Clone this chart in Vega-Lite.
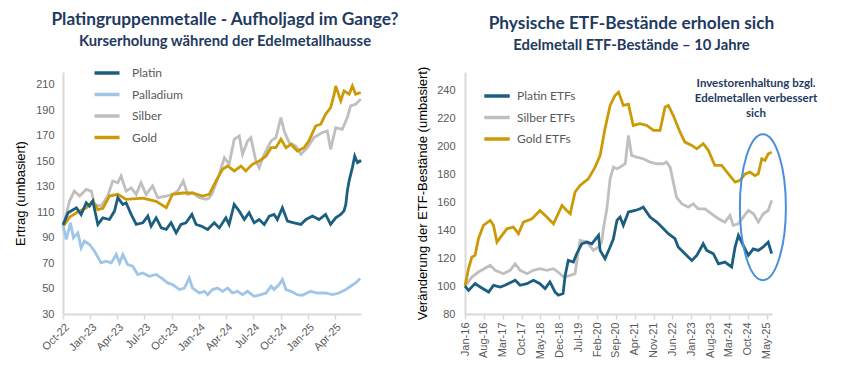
{
  "$schema": "https://vega.github.io/schema/vega-lite/v6.json",
  "background": "white",
  "padding": {"left": 14, "top": 10, "right": 5, "bottom": 5},
  "config": {
    "view": {"stroke": null},
    "axis": {"labelFont": "Liberation Sans", "titleFont": "Liberation Sans", "grid": false}
  },
  "datasets": {
    "left": [
      {"d": "2022-10-01", "s": "Palladium", "v": 100},
      {"d": "2022-10-12", "s": "Palladium", "v": 88.5},
      {"d": "2022-10-26", "s": "Palladium", "v": 101.6},
      {"d": "2022-11-05", "s": "Palladium", "v": 89.8},
      {"d": "2022-11-20", "s": "Palladium", "v": 93.7},
      {"d": "2022-12-01", "s": "Palladium", "v": 81.9},
      {"d": "2022-12-12", "s": "Palladium", "v": 87.2},
      {"d": "2022-12-29", "s": "Palladium", "v": 84.6},
      {"d": "2023-01-15", "s": "Palladium", "v": 79.3},
      {"d": "2023-02-06", "s": "Palladium", "v": 70.1},
      {"d": "2023-02-23", "s": "Palladium", "v": 71.4},
      {"d": "2023-03-12", "s": "Palladium", "v": 70.1},
      {"d": "2023-03-29", "s": "Palladium", "v": 76.7},
      {"d": "2023-04-09", "s": "Palladium", "v": 70.1},
      {"d": "2023-04-20", "s": "Palladium", "v": 76.7},
      {"d": "2023-05-06", "s": "Palladium", "v": 68.8},
      {"d": "2023-05-23", "s": "Palladium", "v": 67.5},
      {"d": "2023-06-09", "s": "Palladium", "v": 61},
      {"d": "2023-06-26", "s": "Palladium", "v": 62.2},
      {"d": "2023-07-18", "s": "Palladium", "v": 59.6},
      {"d": "2023-08-10", "s": "Palladium", "v": 61},
      {"d": "2023-08-27", "s": "Palladium", "v": 58.3},
      {"d": "2023-09-18", "s": "Palladium", "v": 54.4},
      {"d": "2023-10-04", "s": "Palladium", "v": 53.1},
      {"d": "2023-10-27", "s": "Palladium", "v": 49.2},
      {"d": "2023-11-13", "s": "Palladium", "v": 50.4},
      {"d": "2023-11-29", "s": "Palladium", "v": 58.3},
      {"d": "2023-12-10", "s": "Palladium", "v": 50.4},
      {"d": "2024-01-02", "s": "Palladium", "v": 46.5},
      {"d": "2024-01-19", "s": "Palladium", "v": 47.8},
      {"d": "2024-01-30", "s": "Palladium", "v": 45.2},
      {"d": "2024-02-15", "s": "Palladium", "v": 49.2},
      {"d": "2024-03-03", "s": "Palladium", "v": 50.4},
      {"d": "2024-03-20", "s": "Palladium", "v": 47.8},
      {"d": "2024-04-06", "s": "Palladium", "v": 50.4},
      {"d": "2024-04-22", "s": "Palladium", "v": 46.5},
      {"d": "2024-05-09", "s": "Palladium", "v": 47.8},
      {"d": "2024-05-26", "s": "Palladium", "v": 45.2},
      {"d": "2024-06-12", "s": "Palladium", "v": 47.8},
      {"d": "2024-07-04", "s": "Palladium", "v": 43.9},
      {"d": "2024-07-27", "s": "Palladium", "v": 45.2},
      {"d": "2024-08-13", "s": "Palladium", "v": 46.5},
      {"d": "2024-08-30", "s": "Palladium", "v": 51.8},
      {"d": "2024-09-09", "s": "Palladium", "v": 49.2},
      {"d": "2024-09-26", "s": "Palladium", "v": 53.1},
      {"d": "2024-10-07", "s": "Palladium", "v": 57.1},
      {"d": "2024-10-19", "s": "Palladium", "v": 49.2},
      {"d": "2024-11-05", "s": "Palladium", "v": 47.8},
      {"d": "2024-11-26", "s": "Palladium", "v": 45.2},
      {"d": "2024-12-13", "s": "Palladium", "v": 44.7},
      {"d": "2025-01-10", "s": "Palladium", "v": 47.8},
      {"d": "2025-02-01", "s": "Palladium", "v": 46.5},
      {"d": "2025-03-01", "s": "Palladium", "v": 46.5},
      {"d": "2025-03-24", "s": "Palladium", "v": 45.2},
      {"d": "2025-04-15", "s": "Palladium", "v": 46.5},
      {"d": "2025-05-08", "s": "Palladium", "v": 49.2},
      {"d": "2025-05-24", "s": "Palladium", "v": 51.8},
      {"d": "2025-06-10", "s": "Palladium", "v": 54.4},
      {"d": "2025-06-25", "s": "Palladium", "v": 57.8},
      {"d": "2022-10-01", "s": "Silber", "v": 100},
      {"d": "2022-10-06", "s": "Silber", "v": 102.9},
      {"d": "2022-10-23", "s": "Silber", "v": 118.7},
      {"d": "2022-11-08", "s": "Silber", "v": 126.5},
      {"d": "2022-11-26", "s": "Silber", "v": 122.6},
      {"d": "2022-12-18", "s": "Silber", "v": 127.9},
      {"d": "2023-01-04", "s": "Silber", "v": 126.5},
      {"d": "2023-01-15", "s": "Silber", "v": 116},
      {"d": "2023-02-06", "s": "Silber", "v": 114.7},
      {"d": "2023-02-28", "s": "Silber", "v": 122.6},
      {"d": "2023-03-17", "s": "Silber", "v": 134.4},
      {"d": "2023-04-03", "s": "Silber", "v": 133},
      {"d": "2023-04-14", "s": "Silber", "v": 138.3},
      {"d": "2023-05-01", "s": "Silber", "v": 126.5},
      {"d": "2023-05-18", "s": "Silber", "v": 129.1},
      {"d": "2023-06-04", "s": "Silber", "v": 123.9},
      {"d": "2023-06-20", "s": "Silber", "v": 133.1},
      {"d": "2023-07-07", "s": "Silber", "v": 123.9},
      {"d": "2023-07-29", "s": "Silber", "v": 130.5},
      {"d": "2023-08-15", "s": "Silber", "v": 121.3},
      {"d": "2023-09-13", "s": "Silber", "v": 122.6},
      {"d": "2023-10-04", "s": "Silber", "v": 123.9},
      {"d": "2023-10-21", "s": "Silber", "v": 126.5},
      {"d": "2023-11-09", "s": "Silber", "v": 134.4},
      {"d": "2023-11-24", "s": "Silber", "v": 123.9},
      {"d": "2023-12-10", "s": "Silber", "v": 125.2},
      {"d": "2024-01-02", "s": "Silber", "v": 121.3},
      {"d": "2024-01-24", "s": "Silber", "v": 120},
      {"d": "2024-02-04", "s": "Silber", "v": 121},
      {"d": "2024-02-15", "s": "Silber", "v": 125},
      {"d": "2024-03-09", "s": "Silber", "v": 139.7},
      {"d": "2024-03-26", "s": "Silber", "v": 152.7},
      {"d": "2024-04-11", "s": "Silber", "v": 147.5},
      {"d": "2024-04-28", "s": "Silber", "v": 167.2},
      {"d": "2024-05-15", "s": "Silber", "v": 169.8},
      {"d": "2024-05-26", "s": "Silber", "v": 155.4},
      {"d": "2024-06-12", "s": "Silber", "v": 165.9},
      {"d": "2024-06-23", "s": "Silber", "v": 168.5},
      {"d": "2024-07-10", "s": "Silber", "v": 150.1},
      {"d": "2024-07-21", "s": "Silber", "v": 144.9},
      {"d": "2024-08-07", "s": "Silber", "v": 155.4},
      {"d": "2024-08-30", "s": "Silber", "v": 165.9},
      {"d": "2024-09-15", "s": "Silber", "v": 168.5},
      {"d": "2024-10-02", "s": "Silber", "v": 184.2},
      {"d": "2024-10-13", "s": "Silber", "v": 173.7},
      {"d": "2024-10-30", "s": "Silber", "v": 164.5},
      {"d": "2024-11-21", "s": "Silber", "v": 161.9},
      {"d": "2024-12-08", "s": "Silber", "v": 155.4},
      {"d": "2024-12-30", "s": "Silber", "v": 160.6},
      {"d": "2025-01-21", "s": "Silber", "v": 168.5},
      {"d": "2025-02-18", "s": "Silber", "v": 172.4},
      {"d": "2025-03-07", "s": "Silber", "v": 173.7},
      {"d": "2025-03-18", "s": "Silber", "v": 159.3},
      {"d": "2025-04-04", "s": "Silber", "v": 176.3},
      {"d": "2025-04-26", "s": "Silber", "v": 175},
      {"d": "2025-05-13", "s": "Silber", "v": 184.2},
      {"d": "2025-05-24", "s": "Silber", "v": 193.4},
      {"d": "2025-06-10", "s": "Silber", "v": 194.7},
      {"d": "2025-06-27", "s": "Silber", "v": 198.7},
      {"d": "2022-10-01", "s": "Gold", "v": 100},
      {"d": "2022-10-06", "s": "Gold", "v": 100.3},
      {"d": "2022-10-23", "s": "Gold", "v": 106},
      {"d": "2022-11-15", "s": "Gold", "v": 109.5},
      {"d": "2022-12-18", "s": "Gold", "v": 113.4},
      {"d": "2023-01-09", "s": "Gold", "v": 118.7},
      {"d": "2023-01-26", "s": "Gold", "v": 112},
      {"d": "2023-02-12", "s": "Gold", "v": 113},
      {"d": "2023-03-06", "s": "Gold", "v": 122.6},
      {"d": "2023-04-03", "s": "Gold", "v": 124},
      {"d": "2023-05-01", "s": "Gold", "v": 120},
      {"d": "2023-06-26", "s": "Gold", "v": 121},
      {"d": "2023-08-10", "s": "Gold", "v": 118.5},
      {"d": "2023-09-13", "s": "Gold", "v": 113.5},
      {"d": "2023-10-04", "s": "Gold", "v": 124},
      {"d": "2023-11-07", "s": "Gold", "v": 125},
      {"d": "2023-12-10", "s": "Gold", "v": 125},
      {"d": "2024-01-13", "s": "Gold", "v": 122.6},
      {"d": "2024-02-04", "s": "Gold", "v": 123.9},
      {"d": "2024-02-27", "s": "Gold", "v": 134.4},
      {"d": "2024-03-20", "s": "Gold", "v": 143.6},
      {"d": "2024-04-06", "s": "Gold", "v": 146.2},
      {"d": "2024-04-28", "s": "Gold", "v": 142.3},
      {"d": "2024-05-21", "s": "Gold", "v": 146.2},
      {"d": "2024-06-06", "s": "Gold", "v": 142.3},
      {"d": "2024-06-28", "s": "Gold", "v": 147.5},
      {"d": "2024-07-21", "s": "Gold", "v": 150.1},
      {"d": "2024-08-13", "s": "Gold", "v": 154.1},
      {"d": "2024-08-30", "s": "Gold", "v": 160.6},
      {"d": "2024-09-15", "s": "Gold", "v": 160.6},
      {"d": "2024-10-02", "s": "Gold", "v": 167.2},
      {"d": "2024-10-19", "s": "Gold", "v": 160.6},
      {"d": "2024-11-05", "s": "Gold", "v": 163.3},
      {"d": "2024-11-26", "s": "Gold", "v": 158},
      {"d": "2024-12-19", "s": "Gold", "v": 160.6},
      {"d": "2025-01-04", "s": "Gold", "v": 165.9},
      {"d": "2025-01-27", "s": "Gold", "v": 177.7},
      {"d": "2025-02-13", "s": "Gold", "v": 179},
      {"d": "2025-03-01", "s": "Gold", "v": 186.9},
      {"d": "2025-03-18", "s": "Gold", "v": 192.1},
      {"d": "2025-03-30", "s": "Gold", "v": 202.6},
      {"d": "2025-04-04", "s": "Gold", "v": 209.1},
      {"d": "2025-04-21", "s": "Gold", "v": 197.3},
      {"d": "2025-05-02", "s": "Gold", "v": 205.2},
      {"d": "2025-05-19", "s": "Gold", "v": 202.6},
      {"d": "2025-05-30", "s": "Gold", "v": 209.1},
      {"d": "2025-06-10", "s": "Gold", "v": 202.6},
      {"d": "2025-06-27", "s": "Gold", "v": 203.9},
      {"d": "2022-10-01", "s": "Platin", "v": 100},
      {"d": "2022-10-18", "s": "Platin", "v": 109.5},
      {"d": "2022-11-15", "s": "Platin", "v": 113.4},
      {"d": "2022-12-01", "s": "Platin", "v": 108},
      {"d": "2022-12-18", "s": "Platin", "v": 117.3},
      {"d": "2022-12-29", "s": "Platin", "v": 114.7},
      {"d": "2023-01-09", "s": "Platin", "v": 118.7},
      {"d": "2023-01-26", "s": "Platin", "v": 100.3},
      {"d": "2023-02-12", "s": "Platin", "v": 105.5},
      {"d": "2023-03-06", "s": "Platin", "v": 104.2},
      {"d": "2023-03-23", "s": "Platin", "v": 110.8},
      {"d": "2023-04-03", "s": "Platin", "v": 121.3},
      {"d": "2023-04-20", "s": "Platin", "v": 116},
      {"d": "2023-05-01", "s": "Platin", "v": 117.3},
      {"d": "2023-05-18", "s": "Platin", "v": 108.2},
      {"d": "2023-06-04", "s": "Platin", "v": 100.3},
      {"d": "2023-06-26", "s": "Platin", "v": 101.6},
      {"d": "2023-07-13", "s": "Platin", "v": 106.9},
      {"d": "2023-07-24", "s": "Platin", "v": 99},
      {"d": "2023-08-10", "s": "Platin", "v": 105.5},
      {"d": "2023-08-27", "s": "Platin", "v": 97.6},
      {"d": "2023-09-13", "s": "Platin", "v": 96.4},
      {"d": "2023-09-29", "s": "Platin", "v": 101.6},
      {"d": "2023-10-16", "s": "Platin", "v": 93.7},
      {"d": "2023-11-01", "s": "Platin", "v": 100.3},
      {"d": "2023-11-18", "s": "Platin", "v": 101.6},
      {"d": "2023-12-08", "s": "Platin", "v": 108.2},
      {"d": "2023-12-22", "s": "Platin", "v": 100.3},
      {"d": "2024-01-08", "s": "Platin", "v": 99},
      {"d": "2024-01-30", "s": "Platin", "v": 96.4},
      {"d": "2024-02-21", "s": "Platin", "v": 101.6},
      {"d": "2024-03-09", "s": "Platin", "v": 97.6},
      {"d": "2024-03-31", "s": "Platin", "v": 105.5},
      {"d": "2024-04-11", "s": "Platin", "v": 100.3},
      {"d": "2024-04-28", "s": "Platin", "v": 116},
      {"d": "2024-05-15", "s": "Platin", "v": 110.8},
      {"d": "2024-06-01", "s": "Platin", "v": 104.2},
      {"d": "2024-06-17", "s": "Platin", "v": 109.5},
      {"d": "2024-07-04", "s": "Platin", "v": 101.6},
      {"d": "2024-07-21", "s": "Platin", "v": 104.2},
      {"d": "2024-08-07", "s": "Platin", "v": 100.3},
      {"d": "2024-08-24", "s": "Platin", "v": 106.9},
      {"d": "2024-09-09", "s": "Platin", "v": 108.2},
      {"d": "2024-09-20", "s": "Platin", "v": 104.2},
      {"d": "2024-10-07", "s": "Platin", "v": 113.4},
      {"d": "2024-10-24", "s": "Platin", "v": 102.9},
      {"d": "2024-11-15", "s": "Platin", "v": 101.6},
      {"d": "2024-12-08", "s": "Platin", "v": 100.3},
      {"d": "2024-12-25", "s": "Platin", "v": 104.2},
      {"d": "2025-01-16", "s": "Platin", "v": 106.9},
      {"d": "2025-02-07", "s": "Platin", "v": 104.2},
      {"d": "2025-03-01", "s": "Platin", "v": 108.2},
      {"d": "2025-03-18", "s": "Platin", "v": 100.3},
      {"d": "2025-04-04", "s": "Platin", "v": 105.5},
      {"d": "2025-04-21", "s": "Platin", "v": 108.2},
      {"d": "2025-05-02", "s": "Platin", "v": 111},
      {"d": "2025-05-08", "s": "Platin", "v": 116},
      {"d": "2025-05-13", "s": "Platin", "v": 126.5},
      {"d": "2025-05-19", "s": "Platin", "v": 134.4},
      {"d": "2025-05-30", "s": "Platin", "v": 144.9},
      {"d": "2025-06-07", "s": "Platin", "v": 154},
      {"d": "2025-06-16", "s": "Platin", "v": 148.8},
      {"d": "2025-06-24", "s": "Platin", "v": 150.1},
      {"d": "2025-06-27", "s": "Platin", "v": 149}
    ],
    "right": [
      {"d": "2016-01-01", "s": "Silber ETFs", "v": 100},
      {"d": "2016-03-19", "s": "Silber ETFs", "v": 106.4},
      {"d": "2016-06-01", "s": "Silber ETFs", "v": 110},
      {"d": "2016-09-07", "s": "Silber ETFs", "v": 113.6},
      {"d": "2016-10-12", "s": "Silber ETFs", "v": 114.8},
      {"d": "2016-12-07", "s": "Silber ETFs", "v": 111.2},
      {"d": "2017-03-10", "s": "Silber ETFs", "v": 108.8},
      {"d": "2017-05-24", "s": "Silber ETFs", "v": 111.2},
      {"d": "2017-07-21", "s": "Silber ETFs", "v": 115.9},
      {"d": "2017-09-15", "s": "Silber ETFs", "v": 111.2},
      {"d": "2017-12-01", "s": "Silber ETFs", "v": 108.8},
      {"d": "2018-02-12", "s": "Silber ETFs", "v": 111.2},
      {"d": "2018-04-27", "s": "Silber ETFs", "v": 112.4},
      {"d": "2018-07-13", "s": "Silber ETFs", "v": 111.2},
      {"d": "2018-09-27", "s": "Silber ETFs", "v": 112.4},
      {"d": "2018-12-10", "s": "Silber ETFs", "v": 108.8},
      {"d": "2019-01-18", "s": "Silber ETFs", "v": 106.4},
      {"d": "2019-04-04", "s": "Silber ETFs", "v": 107.6},
      {"d": "2019-05-28", "s": "Silber ETFs", "v": 108.8},
      {"d": "2019-07-24", "s": "Silber ETFs", "v": 132.6},
      {"d": "2019-10-10", "s": "Silber ETFs", "v": 131.4},
      {"d": "2019-12-22", "s": "Silber ETFs", "v": 125.5},
      {"d": "2020-02-18", "s": "Silber ETFs", "v": 127.9},
      {"d": "2020-03-24", "s": "Silber ETFs", "v": 131.4},
      {"d": "2020-04-13", "s": "Silber ETFs", "v": 140.9},
      {"d": "2020-05-22", "s": "Silber ETFs", "v": 155.2},
      {"d": "2020-06-28", "s": "Silber ETFs", "v": 176.6},
      {"d": "2020-08-04", "s": "Silber ETFs", "v": 185},
      {"d": "2020-09-13", "s": "Silber ETFs", "v": 183.8},
      {"d": "2020-10-19", "s": "Silber ETFs", "v": 185},
      {"d": "2020-12-16", "s": "Silber ETFs", "v": 187.4},
      {"d": "2021-01-21", "s": "Silber ETFs", "v": 207.6},
      {"d": "2021-02-26", "s": "Silber ETFs", "v": 193.4},
      {"d": "2021-04-24", "s": "Silber ETFs", "v": 192.2},
      {"d": "2021-07-07", "s": "Silber ETFs", "v": 191},
      {"d": "2021-09-22", "s": "Silber ETFs", "v": 188.6},
      {"d": "2021-12-07", "s": "Silber ETFs", "v": 187.4},
      {"d": "2022-02-21", "s": "Silber ETFs", "v": 187.4},
      {"d": "2022-03-27", "s": "Silber ETFs", "v": 188.6},
      {"d": "2022-05-07", "s": "Silber ETFs", "v": 185},
      {"d": "2022-06-12", "s": "Silber ETFs", "v": 174.3},
      {"d": "2022-07-18", "s": "Silber ETFs", "v": 163.6},
      {"d": "2022-09-15", "s": "Silber ETFs", "v": 158.8},
      {"d": "2022-11-27", "s": "Silber ETFs", "v": 156.4},
      {"d": "2023-01-24", "s": "Silber ETFs", "v": 158.8},
      {"d": "2023-03-19", "s": "Silber ETFs", "v": 155.2},
      {"d": "2023-06-04", "s": "Silber ETFs", "v": 155.2},
      {"d": "2023-08-18", "s": "Silber ETFs", "v": 151.6},
      {"d": "2023-11-04", "s": "Silber ETFs", "v": 148.1},
      {"d": "2024-01-16", "s": "Silber ETFs", "v": 145.7},
      {"d": "2024-03-13", "s": "Silber ETFs", "v": 150.5},
      {"d": "2024-04-18", "s": "Silber ETFs", "v": 143.4},
      {"d": "2024-06-16", "s": "Silber ETFs", "v": 144.5},
      {"d": "2024-08-10", "s": "Silber ETFs", "v": 149.3},
      {"d": "2024-10-07", "s": "Silber ETFs", "v": 154},
      {"d": "2024-12-04", "s": "Silber ETFs", "v": 151.6},
      {"d": "2025-01-27", "s": "Silber ETFs", "v": 145.7},
      {"d": "2025-03-24", "s": "Silber ETFs", "v": 151.6},
      {"d": "2025-05-19", "s": "Silber ETFs", "v": 154},
      {"d": "2025-06-27", "s": "Silber ETFs", "v": 161.2},
      {"d": "2016-01-01", "s": "Gold ETFs", "v": 100},
      {"d": "2016-02-10", "s": "Gold ETFs", "v": 112.4},
      {"d": "2016-03-19", "s": "Gold ETFs", "v": 120.7},
      {"d": "2016-04-24", "s": "Gold ETFs", "v": 121.9},
      {"d": "2016-06-01", "s": "Gold ETFs", "v": 133.8},
      {"d": "2016-07-27", "s": "Gold ETFs", "v": 143.4},
      {"d": "2016-10-12", "s": "Gold ETFs", "v": 146.9},
      {"d": "2016-11-18", "s": "Gold ETFs", "v": 143.4},
      {"d": "2016-12-27", "s": "Gold ETFs", "v": 131.4},
      {"d": "2017-02-21", "s": "Gold ETFs", "v": 136.2},
      {"d": "2017-04-18", "s": "Gold ETFs", "v": 140.9},
      {"d": "2017-07-01", "s": "Gold ETFs", "v": 142.1},
      {"d": "2017-08-27", "s": "Gold ETFs", "v": 137.4},
      {"d": "2017-10-21", "s": "Gold ETFs", "v": 145.7},
      {"d": "2018-01-27", "s": "Gold ETFs", "v": 148.1},
      {"d": "2018-04-27", "s": "Gold ETFs", "v": 154},
      {"d": "2018-07-13", "s": "Gold ETFs", "v": 149.3},
      {"d": "2018-09-27", "s": "Gold ETFs", "v": 144.5},
      {"d": "2019-01-01", "s": "Gold ETFs", "v": 157.6},
      {"d": "2019-02-23", "s": "Gold ETFs", "v": 154},
      {"d": "2019-04-04", "s": "Gold ETFs", "v": 151.6},
      {"d": "2019-05-28", "s": "Gold ETFs", "v": 167.1},
      {"d": "2019-07-24", "s": "Gold ETFs", "v": 171.9},
      {"d": "2019-10-25", "s": "Gold ETFs", "v": 176.6},
      {"d": "2020-01-10", "s": "Gold ETFs", "v": 185},
      {"d": "2020-03-07", "s": "Gold ETFs", "v": 193.4},
      {"d": "2020-05-01", "s": "Gold ETFs", "v": 212.4},
      {"d": "2020-06-28", "s": "Gold ETFs", "v": 229.1},
      {"d": "2020-08-22", "s": "Gold ETFs", "v": 236.2},
      {"d": "2020-10-01", "s": "Gold ETFs", "v": 238.6},
      {"d": "2020-11-24", "s": "Gold ETFs", "v": 229.1},
      {"d": "2021-01-21", "s": "Gold ETFs", "v": 230},
      {"d": "2021-03-16", "s": "Gold ETFs", "v": 214.8},
      {"d": "2021-06-01", "s": "Gold ETFs", "v": 216},
      {"d": "2021-08-16", "s": "Gold ETFs", "v": 214.8},
      {"d": "2021-11-01", "s": "Gold ETFs", "v": 211.2},
      {"d": "2022-01-13", "s": "Gold ETFs", "v": 211.2},
      {"d": "2022-03-10", "s": "Gold ETFs", "v": 227.9},
      {"d": "2022-04-16", "s": "Gold ETFs", "v": 229.1},
      {"d": "2022-06-12", "s": "Gold ETFs", "v": 221.9},
      {"d": "2022-08-27", "s": "Gold ETFs", "v": 210},
      {"d": "2022-10-21", "s": "Gold ETFs", "v": 202.9},
      {"d": "2023-01-07", "s": "Gold ETFs", "v": 200.5},
      {"d": "2023-03-04", "s": "Gold ETFs", "v": 198.1},
      {"d": "2023-05-16", "s": "Gold ETFs", "v": 201.7},
      {"d": "2023-07-13", "s": "Gold ETFs", "v": 197},
      {"d": "2023-09-24", "s": "Gold ETFs", "v": 186.2},
      {"d": "2023-12-10", "s": "Gold ETFs", "v": 186.2},
      {"d": "2024-02-24", "s": "Gold ETFs", "v": 180.2},
      {"d": "2024-05-10", "s": "Gold ETFs", "v": 174.3},
      {"d": "2024-07-04", "s": "Gold ETFs", "v": 175.5},
      {"d": "2024-09-01", "s": "Gold ETFs", "v": 180.2},
      {"d": "2024-10-25", "s": "Gold ETFs", "v": 181.4},
      {"d": "2024-12-21", "s": "Gold ETFs", "v": 178.9},
      {"d": "2025-01-27", "s": "Gold ETFs", "v": 180.2},
      {"d": "2025-03-07", "s": "Gold ETFs", "v": 191},
      {"d": "2025-04-13", "s": "Gold ETFs", "v": 189.8},
      {"d": "2025-05-19", "s": "Gold ETFs", "v": 194.5},
      {"d": "2025-06-27", "s": "Gold ETFs", "v": 195.7},
      {"d": "2016-01-01", "s": "Platin ETFs", "v": 100},
      {"d": "2016-02-10", "s": "Platin ETFs", "v": 96.9},
      {"d": "2016-04-24", "s": "Platin ETFs", "v": 101.7},
      {"d": "2016-06-21", "s": "Platin ETFs", "v": 99.3},
      {"d": "2016-09-24", "s": "Platin ETFs", "v": 95.7},
      {"d": "2016-11-18", "s": "Platin ETFs", "v": 100.5},
      {"d": "2017-02-04", "s": "Platin ETFs", "v": 99.3},
      {"d": "2017-03-27", "s": "Platin ETFs", "v": 100.5},
      {"d": "2017-06-12", "s": "Platin ETFs", "v": 102.9},
      {"d": "2017-07-21", "s": "Platin ETFs", "v": 104.1},
      {"d": "2017-09-15", "s": "Platin ETFs", "v": 100.5},
      {"d": "2017-12-01", "s": "Platin ETFs", "v": 101.7},
      {"d": "2018-02-12", "s": "Platin ETFs", "v": 104.1},
      {"d": "2018-04-27", "s": "Platin ETFs", "v": 101.7},
      {"d": "2018-06-24", "s": "Platin ETFs", "v": 98.1},
      {"d": "2018-08-18", "s": "Platin ETFs", "v": 102.9},
      {"d": "2018-10-15", "s": "Platin ETFs", "v": 95.7},
      {"d": "2018-11-21", "s": "Platin ETFs", "v": 93.4},
      {"d": "2019-01-13", "s": "Platin ETFs", "v": 94.6},
      {"d": "2019-02-06", "s": "Platin ETFs", "v": 107.6},
      {"d": "2019-03-13", "s": "Platin ETFs", "v": 118.3},
      {"d": "2019-05-10", "s": "Platin ETFs", "v": 117.1},
      {"d": "2019-06-16", "s": "Platin ETFs", "v": 123.1},
      {"d": "2019-08-13", "s": "Platin ETFs", "v": 130.2},
      {"d": "2019-10-10", "s": "Platin ETFs", "v": 131.4},
      {"d": "2019-12-04", "s": "Platin ETFs", "v": 130.2},
      {"d": "2020-02-18", "s": "Platin ETFs", "v": 136.2},
      {"d": "2020-03-07", "s": "Platin ETFs", "v": 125.5},
      {"d": "2020-05-01", "s": "Platin ETFs", "v": 119.5},
      {"d": "2020-06-28", "s": "Platin ETFs", "v": 127.9},
      {"d": "2020-08-04", "s": "Platin ETFs", "v": 133.8},
      {"d": "2020-09-13", "s": "Platin ETFs", "v": 146.9},
      {"d": "2020-10-19", "s": "Platin ETFs", "v": 149.3},
      {"d": "2020-11-24", "s": "Platin ETFs", "v": 143.4},
      {"d": "2021-01-21", "s": "Platin ETFs", "v": 152.9},
      {"d": "2021-04-07", "s": "Platin ETFs", "v": 154},
      {"d": "2021-06-01", "s": "Platin ETFs", "v": 155.2},
      {"d": "2021-07-07", "s": "Platin ETFs", "v": 156.4},
      {"d": "2021-09-22", "s": "Platin ETFs", "v": 149.3},
      {"d": "2021-12-07", "s": "Platin ETFs", "v": 145.7},
      {"d": "2022-02-21", "s": "Platin ETFs", "v": 140.9},
      {"d": "2022-04-16", "s": "Platin ETFs", "v": 137.4},
      {"d": "2022-07-01", "s": "Platin ETFs", "v": 133.8},
      {"d": "2022-08-06", "s": "Platin ETFs", "v": 127.9},
      {"d": "2022-10-21", "s": "Platin ETFs", "v": 123.1},
      {"d": "2023-01-07", "s": "Platin ETFs", "v": 118.3},
      {"d": "2023-03-04", "s": "Platin ETFs", "v": 121.9},
      {"d": "2023-05-16", "s": "Platin ETFs", "v": 130.2},
      {"d": "2023-06-24", "s": "Platin ETFs", "v": 125.5},
      {"d": "2023-09-07", "s": "Platin ETFs", "v": 123.1},
      {"d": "2023-11-04", "s": "Platin ETFs", "v": 115.9},
      {"d": "2024-01-16", "s": "Platin ETFs", "v": 117.1},
      {"d": "2024-04-01", "s": "Platin ETFs", "v": 113.6},
      {"d": "2024-05-10", "s": "Platin ETFs", "v": 127.9},
      {"d": "2024-06-16", "s": "Platin ETFs", "v": 136.2},
      {"d": "2024-08-10", "s": "Platin ETFs", "v": 129.1},
      {"d": "2024-10-07", "s": "Platin ETFs", "v": 121.9},
      {"d": "2024-12-01", "s": "Platin ETFs", "v": 126.6},
      {"d": "2025-01-27", "s": "Platin ETFs", "v": 125.5},
      {"d": "2025-03-24", "s": "Platin ETFs", "v": 127.9},
      {"d": "2025-05-19", "s": "Platin ETFs", "v": 131.4},
      {"d": "2025-06-27", "s": "Platin ETFs", "v": 123.1}
    ],
    "ellipse": [{"d": "2025-03-20", "v": 156.4}],
    "note": [{"d": "2025-01-02", "v": 244.5, "t": "Investorenhaltung bzgl.\nEdelmetallen verbessert\nsich"}]
  },
  "bounds": "flush",
  "spacing": 104,
  "resolve": {"scale": {"color": "independent"}, "legend": {"color": "independent"}},
  "hconcat": [
    {
      "title": {
        "text": "Platingruppenmetalle  - Aufholjagd im Gange?",
        "subtitle": "Kurserholung während der Edelmetallhausse",
        "anchor": "middle", "frame": "group", "dx": 13, "offset": 13,
        "font": "Lato", "fontSize": 17.3, "fontWeight": "bold", "color": "#1f3a5f",
        "subtitleFont": "Lato", "subtitleFontSize": 14.8, "subtitleFontWeight": "bold",
        "subtitleColor": "#1f3a5f", "subtitlePadding": 6
      },
      "width": 298,
      "height": 242,
      "data": {"name": "left"},
      "mark": {"type": "line", "strokeWidth": 2.8},
      "encoding": {
        "x": {
          "field": "d", "type": "temporal",
          "scale": {"type": "utc", "domain": [{"year": 2022, "month": 10, "date": 1, "utc": true}, {"year": 2025, "month": 6, "date": 28, "utc": true}]},
          "axis": {
            "title": null, "format": "%b-%y", "labelAngle": -45, "labelFlush": false, "labelOverlap": false,
            "values": [
              {"year": 2022, "month": 10, "date": 1, "utc": true},
              {"year": 2023, "month": 1, "date": 1, "utc": true},
              {"year": 2023, "month": 4, "date": 1, "utc": true},
              {"year": 2023, "month": 7, "date": 1, "utc": true},
              {"year": 2023, "month": 10, "date": 1, "utc": true},
              {"year": 2024, "month": 1, "date": 1, "utc": true},
              {"year": 2024, "month": 4, "date": 1, "utc": true},
              {"year": 2024, "month": 7, "date": 1, "utc": true},
              {"year": 2024, "month": 10, "date": 1, "utc": true},
              {"year": 2025, "month": 1, "date": 1, "utc": true},
              {"year": 2025, "month": 4, "date": 1, "utc": true}
            ],
            "labelColor": "#595959", "labelFontSize": 11, "domainColor": "#d9d9d9", "domainWidth": 2,
            "tickColor": "#d9d9d9", "tickSize": 5, "tickWidth": 1.5, "labelPadding": 2
          }
        },
        "y": {
          "field": "v", "type": "quantitative",
          "scale": {"domain": [30, 220], "nice": false, "zero": false},
          "axis": {
            "title": "Ertrag (umbasiert)", "values": [30, 50, 70, 90, 110, 130, 150, 170, 190, 210],
            "ticks": false, "domainColor": "#d9d9d9", "domainWidth": 2,
            "labelColor": "#595959", "labelFontSize": 11, "labelPadding": 9,
            "titleColor": "#000000", "titleFontSize": 13, "titleFontWeight": "normal", "titlePadding": 8
          }
        },
        "color": {
          "field": "s", "type": "nominal",
          "scale": {"domain": ["Platin", "Palladium", "Silber", "Gold"], "range": ["#1b5e80", "#9fc5e8", "#bfbfbf", "#cc9a06"]},
          "legend": {
            "title": null, "orient": "none", "legendX": 33, "legendY": -10, "padding": 0,
            "symbolType": "M-1.4,0L1.4,0", "symbolSize": 320, "symbolStrokeWidth": 3.5,
            "labelOffset": 14, "labelFont": "Lato", "labelFontSize": 12, "labelColor": "#595959", "rowPadding": 3.5
          }
        }
      }
    },
    {
      "title": {
        "text": "Physische ETF-Bestände erholen sich",
        "subtitle": "Edelmetall ETF-Bestände – 10 Jahre",
        "anchor": "middle", "frame": "group", "dx": 13, "offset": 13,
        "font": "Lato", "fontSize": 17.3, "fontWeight": "bold", "color": "#1f3a5f",
        "subtitleFont": "Lato", "subtitleFontSize": 14.8, "subtitleFontWeight": "bold",
        "subtitleColor": "#1f3a5f", "subtitlePadding": 6
      },
      "width": 307,
      "height": 242,
      "encoding": {
        "x": {
          "field": "d", "type": "temporal",
          "scale": {"type": "utc", "domain": [{"year": 2016, "month": 1, "date": 1, "utc": true}, {"year": 2025, "month": 7, "date": 1, "utc": true}]},
          "axis": {
            "title": null, "format": "%b-%y", "labelAngle": -90, "labelFlush": false, "labelOverlap": false,
            "values": [
              {"year": 2016, "month": 1, "date": 1, "utc": true},
              {"year": 2016, "month": 8, "date": 1, "utc": true},
              {"year": 2017, "month": 3, "date": 1, "utc": true},
              {"year": 2017, "month": 10, "date": 1, "utc": true},
              {"year": 2018, "month": 5, "date": 1, "utc": true},
              {"year": 2018, "month": 12, "date": 1, "utc": true},
              {"year": 2019, "month": 7, "date": 1, "utc": true},
              {"year": 2020, "month": 2, "date": 1, "utc": true},
              {"year": 2020, "month": 9, "date": 1, "utc": true},
              {"year": 2021, "month": 4, "date": 1, "utc": true},
              {"year": 2021, "month": 11, "date": 1, "utc": true},
              {"year": 2022, "month": 6, "date": 1, "utc": true},
              {"year": 2023, "month": 1, "date": 1, "utc": true},
              {"year": 2023, "month": 8, "date": 1, "utc": true},
              {"year": 2024, "month": 3, "date": 1, "utc": true},
              {"year": 2024, "month": 10, "date": 1, "utc": true},
              {"year": 2025, "month": 5, "date": 1, "utc": true}
            ],
            "labelColor": "#595959", "labelFontSize": 11, "domainColor": "#d9d9d9", "domainWidth": 2,
            "tickColor": "#d9d9d9", "tickSize": 5, "tickWidth": 1.5, "labelPadding": 3
          }
        },
        "y": {
          "field": "v", "type": "quantitative",
          "scale": {"domain": [80, 253], "nice": false, "zero": false},
          "axis": {
            "title": "Veränderung der ETF-Bestände (umbasiert)", "values": [80, 100, 120, 140, 160, 180, 200, 220, 240],
            "ticks": false, "domainColor": "#d9d9d9", "domainWidth": 2,
            "labelColor": "#595959", "labelFontSize": 11, "labelPadding": 10,
            "titleColor": "#000000", "titleFontSize": 13, "titleFontWeight": "normal", "titlePadding": 7
          }
        }
      },
      "layer": [
        {
          "data": {"name": "right"},
          "mark": {"type": "line", "strokeWidth": 2.8},
          "encoding": {
            "color": {
              "field": "s", "type": "nominal",
              "scale": {"domain": ["Platin ETFs", "Silber ETFs", "Gold ETFs"], "range": ["#1b5e80", "#bfbfbf", "#cc9a06"]},
              "legend": {
                "title": null, "orient": "none", "legendX": 21, "legendY": 13, "padding": 0,
                "symbolType": "M-1.4,0L1.4,0", "symbolSize": 330, "symbolStrokeWidth": 3.5,
                "labelOffset": 9, "labelFont": "Lato", "labelFontSize": 12, "labelColor": "#595959", "rowPadding": 3.5
              }
            }
          }
        },
        {
          "data": {"name": "ellipse"},
          "mark": {
            "type": "point",
            "shape": "M-0.315,0C-0.315,-0.552,-0.174,-1,0,-1C0.174,-1,0.315,-0.552,0.315,0C0.315,0.552,0.174,1,0,1C-0.174,1,-0.315,0.552,-0.315,0Z",
            "size": 21316, "filled": false, "color": "#4a8fdc", "strokeWidth": 2, "opacity": 1
          }
        },
        {
          "data": {"name": "note"},
          "mark": {
            "type": "text", "lineBreak": "\n", "font": "Lato", "fontSize": 11.5, "fontWeight": "bold",
            "color": "#1f3a5f", "align": "center", "baseline": "middle", "lineHeight": 15
          },
          "encoding": {
            "text": {"field": "t"}
          }
        }
      ]
    }
  ]
}
